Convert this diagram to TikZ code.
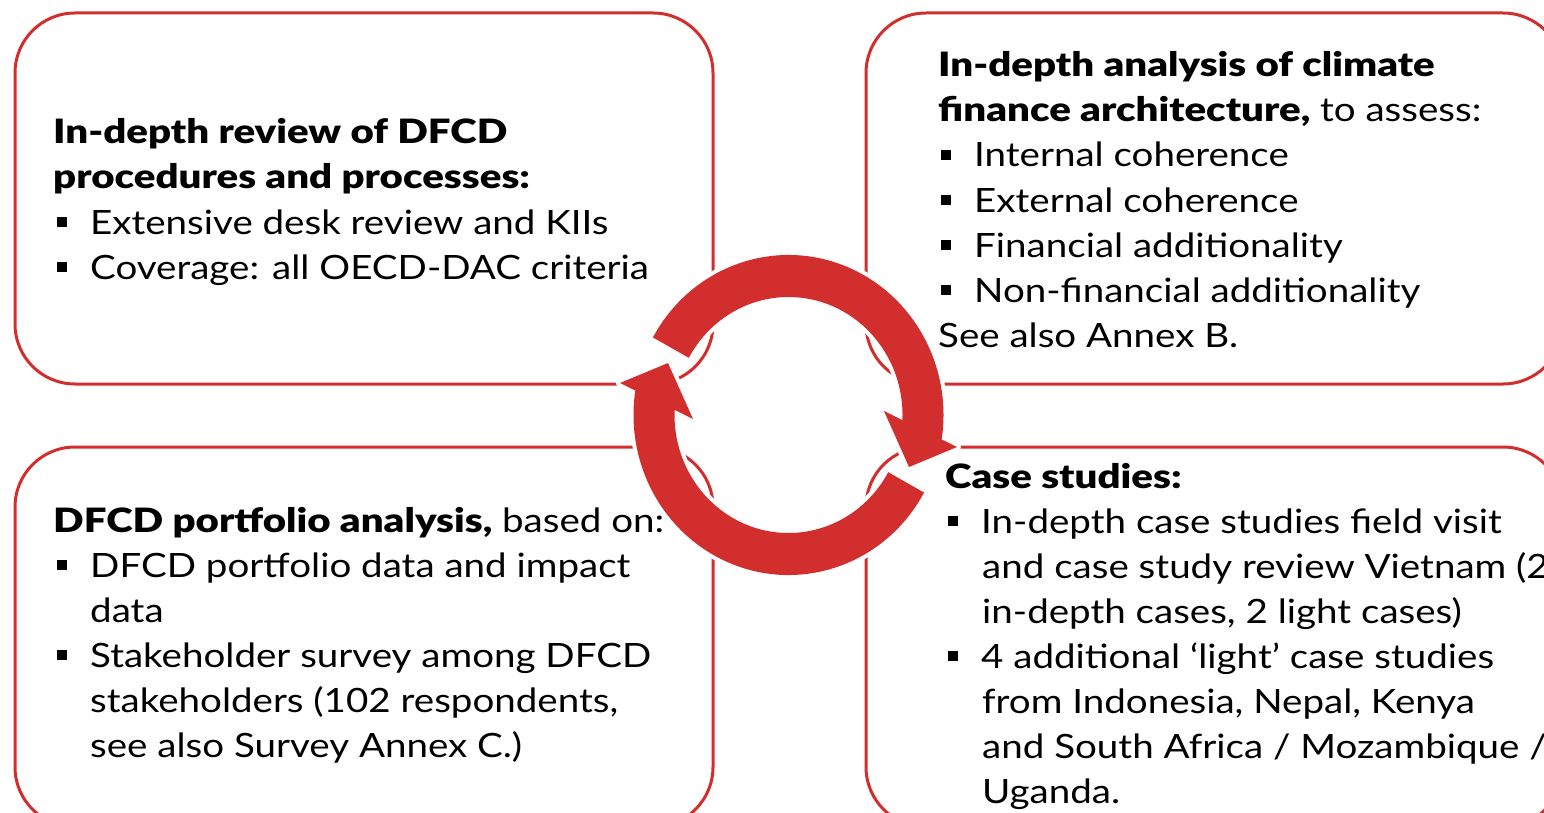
\documentclass[tikz,border=0pt]{standalone}
\usepackage{fontspec}
\setmainfont{Lato}[FakeStretch=1.15, BoldFont={Lato Black}, BoldFeatures={FakeStretch=1.20}]
\definecolor{cred}{RGB}{211,46,46}
\newcommand\bsq{\rule[7pt]{10pt}{10pt}\hspace{23pt}}
\tikzset{
  boxline/.style={draw=cred, line width=3pt, rounded corners=60pt},
  txt/.style={anchor=base west, inner sep=0pt, text=black, font=\fontsize{33.5pt}{45pt}\selectfont},
  ringarrow/.style={fill=cred, preaction={draw=white, line width=8pt, line join=round}}
}
\begin{document}
\begin{tikzpicture}[x=1pt, y=1pt]
\useasboundingbox (0,0) rectangle (1544,-813);
\clip (0,0) rectangle (1544,-813);
% boxes
\draw[boxline] (15,-13) rectangle (713,-384);
\draw[boxline] (866,-13) rectangle (1563,-384);
\draw[boxline] (15,-447) rectangle (713,-827);
\draw[boxline] (866,-447) rectangle (1563,-827);
% ring arrows
\begin{scope}[shift={(788.5,-415)}]
\fill[ringarrow] (151:155 and 160) arc[start angle=151, end angle=-8.8, x radius=155, y radius=160]
  -- (168.5,-32) -- (120.5,-52) -- (95.5,4)
  -- (-2.5:114 and 118) arc[start angle=-2.5, end angle=151, x radius=114, y radius=118] -- cycle;
\fill[ringarrow] (-29:155 and 160) arc[start angle=-29, end angle=-188.8, x radius=155, y radius=160]
  -- (-168.5,32) -- (-120.5,52) -- (-95.5,-4)
  -- (177.5:114 and 118) arc[start angle=177.5, end angle=331, x radius=114, y radius=118] -- cycle;
\end{scope}
% top left
\node[txt] (tl1) at (53,-144) {\textbf{In-depth review of DFCD}};
\node[txt] (tl2) at (53,-189) {\textbf{procedures and processes:}};
\node[txt] (tl3) at (57,-234) {\bsq Extensive desk review and KIIs};
\node[txt] (tl4) at (57,-279) {\bsq Coverage: all OECD-DAC criteria};
% top right
\node[txt] (tr1) at (938,-77) {\textbf{In-depth analysis of climate}};
\node[txt] (tr2) at (938,-122) {\textbf{finance architecture,} to assess:};
\node[txt] (tr3) at (941,-167) {\bsq Internal coherence};
\node[txt] (tr4) at (941,-212) {\bsq External coherence};
\node[txt] (tr5) at (941,-257) {\bsq Financial additionality};
\node[txt] (tr6) at (941,-302) {\bsq Non-financial additionality};
\node[txt] (tr7) at (938,-347) {See also Annex B.};
% bottom left
\node[txt] (bl1) at (53,-532) {\textbf{DFCD portfolio analysis,} based on:};
\node[txt] (bl2) at (57,-577) {\bsq DFCD portfolio data and impact};
\node[txt] (bl3) at (90,-622) {data};
\node[txt] (bl4) at (57,-667) {\bsq Stakeholder survey among DFCD};
\node[txt] (bl5) at (90,-712) {stakeholders (102 respondents,};
\node[txt] (bl6) at (90,-757) {see also Survey Annex C.)};
% bottom right
\node[txt] (br1) at (945,-488) {\textbf{Case studies:}};
\node[txt] (br2) at (948,-533) {\bsq In-depth case studies field visit};
\node[txt] (br3) at (982,-578) {and case study review Vietnam (2};
\node[txt] (br4) at (982,-623) {in-depth cases, 2 light cases)};
\node[txt] (br5) at (948,-668) {\bsq 4 additional ‘light’ case studies};
\node[txt] (br6) at (982,-713) {from Indonesia, Nepal, Kenya};
\node[txt] (br7) at (982,-758) {and South Africa / Mozambique /};
\node[txt] (br8) at (982,-803) {Uganda.};
\end{tikzpicture}
\end{document}
